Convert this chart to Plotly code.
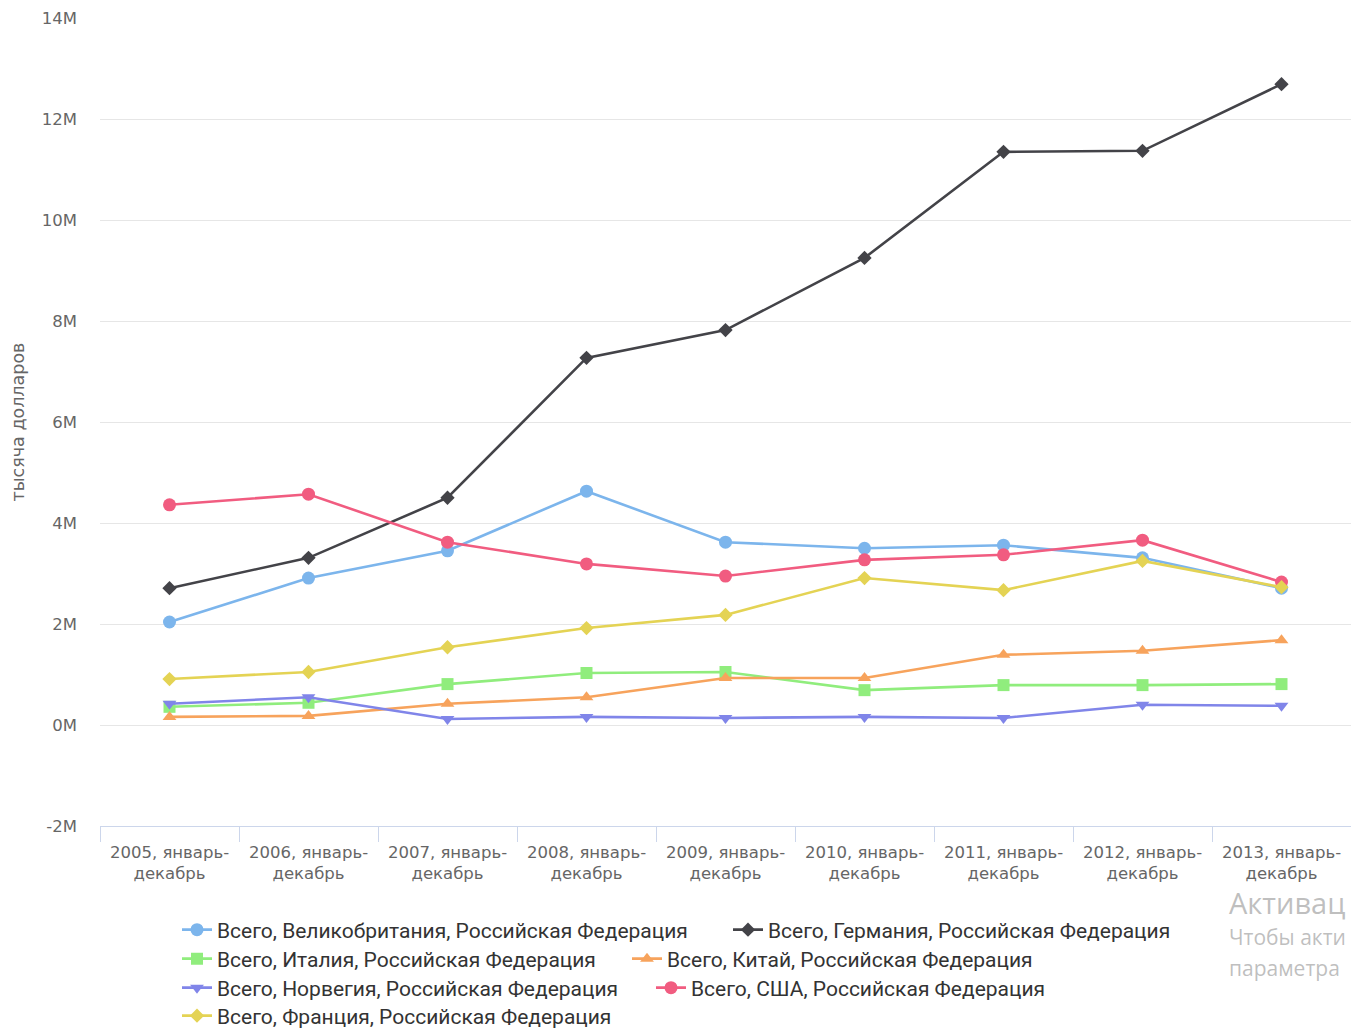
import plotly.graph_objects as go

categories = ["2005, январь-<br>декабрь", "2006, январь-<br>декабрь", "2007, январь-<br>декабрь",
              "2008, январь-<br>декабрь", "2009, январь-<br>декабрь", "2010, январь-<br>декабрь",
              "2011, январь-<br>декабрь", "2012, январь-<br>декабрь", "2013, январь-<br>декабрь"]

uk      = [2.04e6, 2.91e6, 3.45e6, 4.63e6, 3.62e6, 3.50e6, 3.56e6, 3.31e6, 2.71e6]
germany = [2.71e6, 3.31e6, 4.50e6, 7.27e6, 7.82e6, 9.25e6, 11.35e6, 11.37e6, 12.69e6]
italy   = [0.36e6, 0.44e6, 0.81e6, 1.03e6, 1.05e6, 0.69e6, 0.79e6, 0.79e6, 0.81e6]
china   = [0.16e6, 0.18e6, 0.42e6, 0.55e6, 0.93e6, 0.93e6, 1.39e6, 1.47e6, 1.68e6]
norway  = [0.42e6, 0.55e6, 0.12e6, 0.16e6, 0.14e6, 0.16e6, 0.14e6, 0.40e6, 0.38e6]
usa     = [4.36e6, 4.57e6, 3.62e6, 3.19e6, 2.95e6, 3.27e6, 3.37e6, 3.66e6, 2.83e6]
france  = [0.91e6, 1.05e6, 1.54e6, 1.92e6, 2.18e6, 2.91e6, 2.67e6, 3.25e6, 2.73e6]

series_names = ["Всего, Великобритания, Российская Федерация",
                "Всего, Германия, Российская Федерация",
                "Всего, Италия, Российская Федерация",
                "Всего, Китай, Российская Федерация",
                "Всего, Норвегия, Российская Федерация",
                "Всего, США, Российская Федерация",
                "Всего, Франция, Российская Федерация"]

y_tick_vals = [-2e6, 0, 2e6, 4e6, 6e6, 8e6, 10e6, 12e6, 14e6]
y_tick_text = ["-2M", "0M", "2M", "4M", "6M", "8M", "10M", "12M", "14M"]

series_values = [uk, germany, italy, china, norway, usa, france]
colors = ["#7cb5ec", "#434348", "#90ed7d", "#f7a35c", "#8085e9", "#f15c80", "#e4d354"]
symbols = ["circle", "diamond", "square", "triangle-up", "triangle-down", "circle", "diamond"]
sizes = [13, 11, 12, 12, 12, 13, 11]
legend_ids = ["legend", "legend", "legend2", "legend2", "legend3", "legend3", "legend4"]

fig = go.Figure()
for name, vals, col, sym, sz, lg in zip(series_names, series_values, colors, symbols, sizes, legend_ids):
    fig.add_trace(go.Scatter(
        x=categories, y=vals, name=name, mode="lines+markers",
        line=dict(color=col, width=2.6),
        marker=dict(symbol=sym, size=sz, color=col),
        legend=lg,
    ))

W, H = 1351, 1029
leg_font = dict(family="Roboto", size=21, color="#333333")
row_y = [930, 959, 988, 1016]
row_entry_w = [506, 405, 429, 0]
leg_common = dict(orientation="h", xref="container", yref="container", x=177 / W,
                  xanchor="left", yanchor="middle", font=leg_font, bgcolor="rgba(0,0,0,0)",
                  itemwidth=30, tracegroupgap=0, entrywidthmode="pixels")

fig.update_layout(
    width=W, height=H, autosize=False,
    margin=dict(l=100, r=0, t=18, b=203),
    plot_bgcolor="white", paper_bgcolor="white",
    font=dict(family="DejaVu Sans", color="#666666"),
    xaxis=dict(
        type="category", tickson="boundaries", ticks="outside", ticklen=15,
        tickcolor="#ccd6eb", tickwidth=1, showline=True, linecolor="#ccd6eb", linewidth=1,
        showgrid=False, tickfont=dict(family="DejaVu Sans", size=16.5, color="#666666"),
        ticklabelstandoff=11,
        range=[-0.5, 8.5],
    ),
    yaxis=dict(
        range=[-2e6, 14e6], tickvals=y_tick_vals, ticktext=y_tick_text,
        showgrid=True, gridcolor="#e6e6e6", gridwidth=1, zeroline=False,
        tickfont=dict(family="DejaVu Sans", size=16.5, color="#666666"),
        ticklabelstandoff=22,
        title=dict(text="тысяча долларов", font=dict(family="DejaVu Sans", size=17.5, color="#666666"),
                   standoff=12),
    ),
    legend=dict(**leg_common, y=1 - row_y[0] / H, entrywidth=row_entry_w[0]),
    legend2=dict(**leg_common, y=1 - row_y[1] / H, entrywidth=row_entry_w[1]),
    legend3=dict(**leg_common, y=1 - row_y[2] / H, entrywidth=row_entry_w[2]),
    legend4=dict(**leg_common, y=1 - row_y[3] / H, entrywidth=row_entry_w[3]),
    showlegend=True,
)

wm_color = "rgba(170,170,170,0.75)"
wm_x = (1227 - 100) / (W - 100)
fig.add_annotation(xref="paper", yref="paper", x=wm_x, y=1 - (902 - 18) / (826 - 18),
                   text="Активац", showarrow=False, xanchor="left", yanchor="middle",
                   font=dict(family="Open Sans", size=29, color=wm_color))
fig.add_annotation(xref="paper", yref="paper", x=wm_x, y=1 - (937 - 18) / (826 - 18),
                   text="Чтобы акти", showarrow=False, xanchor="left", yanchor="middle",
                   font=dict(family="Open Sans", size=21, color=wm_color))
fig.add_annotation(xref="paper", yref="paper", x=wm_x, y=1 - (968 - 18) / (826 - 18),
                   text="параметра", showarrow=False, xanchor="left", yanchor="middle",
                   font=dict(family="Open Sans", size=21, color=wm_color))

fig.write_html("out.html", config={"displayModeBar": False},
               post_script="document.body.style.margin='0';")
